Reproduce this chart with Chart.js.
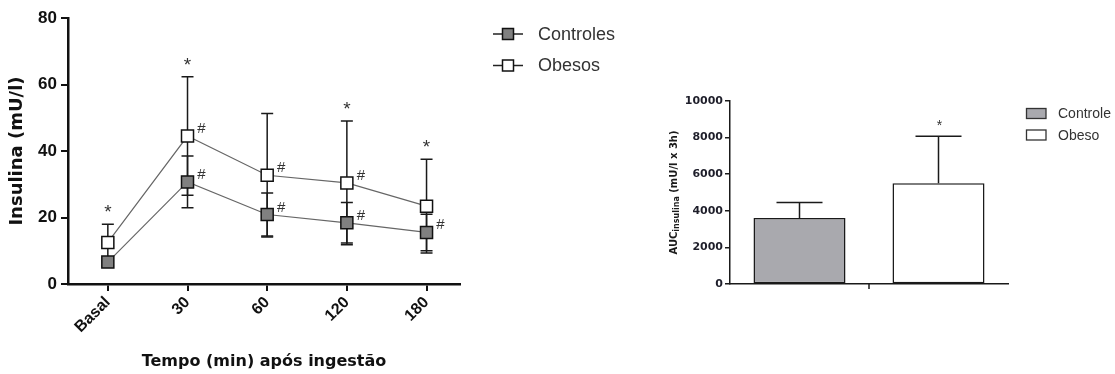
<!DOCTYPE html>
<html>
<head>
<meta charset="utf-8">
<script src="https://cdn.jsdelivr.net/npm/chart.js@4/dist/chart.umd.min.js"></script>
<style>
  html, body { margin: 0; padding: 0; background: #fff; overflow: hidden; }
  #wrap { position: relative; width: 1115px; height: 374px; }
  canvas { position: absolute; top: 0; }
  #insulinChart { left: 0; }
  #aucChart { left: 650px; }
</style>
</head>
<body>
<div id="wrap">
  <canvas id="insulinChart" width="650" height="374"></canvas>
  <canvas id="aucChart" width="465" height="374"></canvas>
</div>
<script>
// ---- Insulin curve (mean ± SD) ----
const timepoints = ['Basal', '30', '60', '120', '180'];
const controlesMean = [6.6, 30.7, 20.9, 18.4, 15.5];
const controlesSD = [1.2, 7.8, 6.5, 6.1, 5.5];
const obesosMean = [12.5, 44.5, 32.7, 30.4, 23.4];
const obesosSD = [5.5, 17.8, 18.6, 18.6, 14.1];
// significance markers: * obese vs control, # vs basal
const starObesos = [true, true, false, true, true];
const hashObesos = [false, true, true, true, false];
const hashControles = [false, true, true, true, true];
const insulinTicks = [0, 20, 40, 60, 80];

// ---- Area under the curve ----
const groups = ['Controle', 'Obeso'];
const aucMean = [3600, 5500];
const aucSD = [850, 2580];
const aucStars = [false, true];
const aucTicks = [0, 2000, 4000, 6000, 8000, 10000];

const ARIAL = "'Liberation Sans', Arial, sans-serif";
const WIDE = "'DejaVu Sans', Verdana, sans-serif";

// Vertical error bars drawn underneath the markers
const errorBarsPlugin = {
  id: 'errorBars',
  beforeDatasetsDraw(chart, args, opts) {
    const ctx = chart.ctx;
    chart.data.datasets.forEach((ds, di) => {
      if (!ds.errors) return;
      const meta = chart.getDatasetMeta(di);
      const ys = meta.yScale;
      ctx.save();
      ctx.strokeStyle = opts.color;
      ctx.lineWidth = opts.width;
      meta.data.forEach((el, j) => {
        const raw = ds.data[j];
        const mean = typeof raw === 'object' ? raw.y : raw;
        const sd = ds.errors[j];
        const x = el.x;
        const yTop = ys.getPixelForValue(mean + sd);
        const yMid = ys.getPixelForValue(mean);
        const yBot = opts.lowerToo ? ys.getPixelForValue(mean - sd) : yMid;
        ctx.beginPath();
        ctx.moveTo(x, yTop); ctx.lineTo(x, yBot);
        ctx.moveTo(x - opts.cap, yTop); ctx.lineTo(x + opts.cap, yTop);
        if (opts.lowerToo) { ctx.moveTo(x - opts.cap, yBot); ctx.lineTo(x + opts.cap, yBot); }
        ctx.stroke();
      });
      ctx.restore();
    });
  }
};

function glyphAt(ctx, text, cx, cy) {
  const m = ctx.measureText(text);
  const base = cy + (m.actualBoundingBoxAscent - m.actualBoundingBoxDescent) / 2;
  ctx.fillText(text, cx, base);
}

// "*" above the upper error cap, "#" to the right of a point
const marksPlugin = {
  id: 'marks',
  afterDatasetsDraw(chart, args, opts) {
    const ctx = chart.ctx;
    ctx.save();
    ctx.fillStyle = opts.color;
    ctx.textAlign = 'center';
    ctx.textBaseline = 'alphabetic';
    chart.data.datasets.forEach((ds, di) => {
      const meta = chart.getDatasetMeta(di);
      const ys = meta.yScale;
      meta.data.forEach((el, j) => {
        const raw = ds.data[j];
        const mean = typeof raw === 'object' ? raw.y : raw;
        if (ds.stars && ds.stars[j]) {
          ctx.font = opts.starFont;
          const yTop = ys.getPixelForValue(mean + (ds.errors ? ds.errors[j] : 0));
          glyphAt(ctx, '*', el.x + opts.starDx, yTop - opts.starGap);
        }
        if (ds.hashes && ds.hashes[j]) {
          ctx.font = opts.hashFont;
          glyphAt(ctx, '#', el.x + opts.hashDx, el.y + opts.hashDy);
        }
      });
    });
    ctx.restore();
  }
};

// Legend with a line-and-marker key per series
const lineLegendPlugin = {
  id: 'lineLegend',
  afterDraw(chart, args, opts) {
    const ctx = chart.ctx;
    ctx.save();
    chart.data.datasets.forEach((ds, i) => {
      const y = opts.y + i * opts.rowGap;
      ctx.strokeStyle = opts.lineColor;
      ctx.lineWidth = 1.5;
      ctx.beginPath();
      ctx.moveTo(opts.x, y); ctx.lineTo(opts.x + opts.lineLen, y);
      ctx.stroke();
      const s = opts.box;
      const cx = opts.x + opts.lineLen / 2;
      ctx.fillStyle = ds.pointBackgroundColor;
      ctx.fillRect(cx - s / 2, y - s / 2, s, s);
      ctx.strokeStyle = ds.pointBorderColor;
      ctx.strokeRect(cx - s / 2, y - s / 2, s, s);
      ctx.fillStyle = opts.textColor;
      ctx.font = opts.font;
      ctx.textAlign = 'left';
      ctx.textBaseline = 'middle';
      ctx.fillText(ds.label, opts.textX, y + 1);
    });
    ctx.restore();
  }
};

// Legend with filled boxes, one per bar
const boxLegendPlugin = {
  id: 'boxLegend',
  afterDraw(chart, args, opts) {
    const ctx = chart.ctx;
    const ds = chart.data.datasets[0];
    ctx.save();
    chart.data.labels.forEach((lab, i) => {
      const y = opts.y + i * opts.rowGap;
      ctx.fillStyle = ds.backgroundColor[i];
      ctx.fillRect(opts.x, y - opts.h / 2, opts.w, opts.h);
      ctx.strokeStyle = opts.stroke;
      ctx.lineWidth = 1.3;
      ctx.strokeRect(opts.x, y - opts.h / 2, opts.w, opts.h);
      ctx.fillStyle = opts.textColor;
      ctx.font = opts.font;
      ctx.textAlign = 'left';
      ctx.textBaseline = 'middle';
      ctx.fillText(lab, opts.textX, y + 1);
    });
    ctx.restore();
  }
};

// Single tick under the category axis, between the two bars
const centerTickPlugin = {
  id: 'centerTick',
  afterDraw(chart, args, opts) {
    const xs = chart.scales.x;
    const x = xs.getPixelForValue(0.5);
    const ctx = chart.ctx;
    ctx.save();
    ctx.strokeStyle = opts.color;
    ctx.lineWidth = 1.5;
    ctx.beginPath();
    ctx.moveTo(x, chart.chartArea.bottom);
    ctx.lineTo(x, chart.chartArea.bottom + opts.len);
    ctx.stroke();
    ctx.restore();
  }
};

// Y title with a subscript: AUC_insulina (mU/l x 3h)
const aucTitlePlugin = {
  id: 'aucTitle',
  afterDraw(chart, args, opts) {
    const ctx = chart.ctx;
    const parts = [
      { t: 'AUC', f: opts.mainFont, dy: 0 },
      { t: 'insulina', f: opts.subFont, dy: opts.subDrop },
      { t: ' (mU/l x 3h)', f: opts.mainFont, dy: 0 }
    ];
    let total = 0;
    parts.forEach(p => { ctx.font = p.f; p.w = ctx.measureText(p.t).width; total += p.w; });
    const area = chart.chartArea;
    const cy = (area.top + area.bottom) / 2;
    ctx.save();
    ctx.translate(opts.x, cy);
    ctx.rotate(-Math.PI / 2);
    ctx.fillStyle = opts.color;
    ctx.textAlign = 'left';
    ctx.textBaseline = 'alphabetic';
    let x = -total / 2;
    parts.forEach(p => {
      ctx.font = p.f;
      ctx.fillText(p.t, x, opts.baseline + p.dy);
      x += p.w;
    });
    ctx.restore();
  }
};

new Chart(document.getElementById('insulinChart'), {
  type: 'line',
  data: {
    datasets: [
      {
        label: 'Controles',
        data: controlesMean.map((v, i) => ({ x: i, y: v })),
        errors: controlesSD,
        hashes: hashControles,
        borderColor: '#666', borderWidth: 1.2, tension: 0,
        pointStyle: 'rect', pointRadius: 8.5,
        pointBackgroundColor: '#808080', pointBorderColor: '#111', pointBorderWidth: 1.5
      },
      {
        label: 'Obesos',
        data: obesosMean.map((v, i) => ({ x: i, y: v })),
        errors: obesosSD,
        hashes: hashObesos,
        stars: starObesos,
        borderColor: '#666', borderWidth: 1.2, tension: 0,
        pointStyle: 'rect', pointRadius: 8.5,
        pointBackgroundColor: '#ffffff', pointBorderColor: '#111', pointBorderWidth: 1.5
      }
    ]
  },
  options: {
    responsive: false,
    animation: false,
    events: [],
    layout: { padding: { left: 0, top: 18, right: 190, bottom: 0 } },
    plugins: {
      legend: { display: false },
      tooltip: { enabled: false },
      errorBars: { color: '#1a1a1a', width: 1.5, cap: 6, lowerToo: true },
      marks: { color: '#333', starFont: '19px ' + ARIAL, starGap: 15.5, starDx: 0,
               hashFont: '15px ' + ARIAL, hashDx: 14, hashDy: -8 },
      lineLegend: { x: 493, y: 34, rowGap: 31.5, lineLen: 30, box: 11, textX: 538,
                    lineColor: '#222', textColor: '#333', font: '18px ' + ARIAL }
    },
    scales: {
      x: {
        type: 'linear', min: -0.5, max: 4.42,
        afterBuildTicks: s => { s.ticks = timepoints.map((_, i) => ({ value: i })); },
        afterFit: s => { s.height = 90; },
        ticks: {
          callback: v => timepoints[v],
          minRotation: 45, maxRotation: 45, autoSkip: false, padding: 2,
          font: { family: ARIAL, size: 16, weight: 'bold' }, color: '#111'
        },
        grid: { drawOnChartArea: false, tickLength: 7, color: '#111', lineWidth: 2 },
        border: { color: '#111', width: 2.5 },
        title: {
          display: true, text: 'Tempo (min) após ingestão',
          font: { family: WIDE, size: 16, weight: 'bold' }, color: '#111',
          padding: { top: 0, bottom: 3 }
        }
      },
      y: {
        min: 0, max: 80,
        afterBuildTicks: s => { s.ticks = insulinTicks.map(v => ({ value: v })); },
        afterFit: s => { s.width = 68; },
        ticks: { font: { family: ARIAL, size: 17, weight: 'bold' }, color: '#111', padding: 4 },
        grid: { drawOnChartArea: false, tickLength: 7, color: '#111', lineWidth: 2 },
        border: { color: '#111', width: 2.5 },
        title: {
          display: true, text: 'Insulina (mU/l)',
          font: { family: WIDE, size: 18, weight: 'bold' }, color: '#111',
          padding: { top: 7, bottom: 0 }
        }
      }
    }
  },
  plugins: [errorBarsPlugin, marksPlugin, lineLegendPlugin]
});

new Chart(document.getElementById('aucChart'), {
  type: 'bar',
  data: {
    labels: groups,
    datasets: [{
      label: 'AUC insulina',
      data: aucMean,
      errors: aucSD,
      stars: aucStars,
      backgroundColor: ['#a9a9ae', '#ffffff'],
      borderColor: '#1a1a1a', borderWidth: 1.5, borderSkipped: false,
      barPercentage: 0.662, categoryPercentage: 1
    }]
  },
  options: {
    responsive: false,
    animation: false,
    events: [],
    layout: { padding: { left: 0, top: 101, right: 107, bottom: 0 } },
    plugins: {
      legend: { display: false },
      tooltip: { enabled: false },
      errorBars: { color: '#1a1a1a', width: 1.5, cap: 23, lowerToo: false },
      marks: { color: '#333', starFont: '14px ' + ARIAL, starGap: 12.7, starDx: 1,
               hashFont: '13px ' + ARIAL, hashDx: 0, hashDy: 0 },
      boxLegend: { x: 376.5, y: 113.5, rowGap: 21.5, w: 19.5, h: 10, textX: 408,
                   stroke: '#333', textColor: '#333', font: '14px ' + ARIAL },
      centerTick: { color: '#1a1a1a', len: 5 },
      aucTitle: { x: 23, baseline: 4, color: '#1a1a1a', subDrop: 2,
                  mainFont: 'bold 10px ' + WIDE, subFont: 'bold 8px ' + WIDE }
    },
    scales: {
      x: {
        afterFit: s => { s.height = 90; },
        ticks: { display: false },
        grid: { display: false },
        border: { color: '#1a1a1a', width: 1.5 }
      },
      y: {
        min: 0, max: 10000,
        afterBuildTicks: s => { s.ticks = aucTicks.map(v => ({ value: v })); },
        afterFit: s => { s.width = 80; },
        ticks: {
          callback: v => String(v),
          font: { family: WIDE, size: 11, weight: 'bold' }, color: '#1e1e2a', padding: 2
        },
        grid: { drawOnChartArea: false, tickLength: 5, color: '#1a1a1a', lineWidth: 1.5 },
        border: { color: '#1a1a1a', width: 1.5 }
      }
    }
  },
  plugins: [errorBarsPlugin, marksPlugin, boxLegendPlugin, centerTickPlugin, aucTitlePlugin]
});
</script>
</body>
</html>
